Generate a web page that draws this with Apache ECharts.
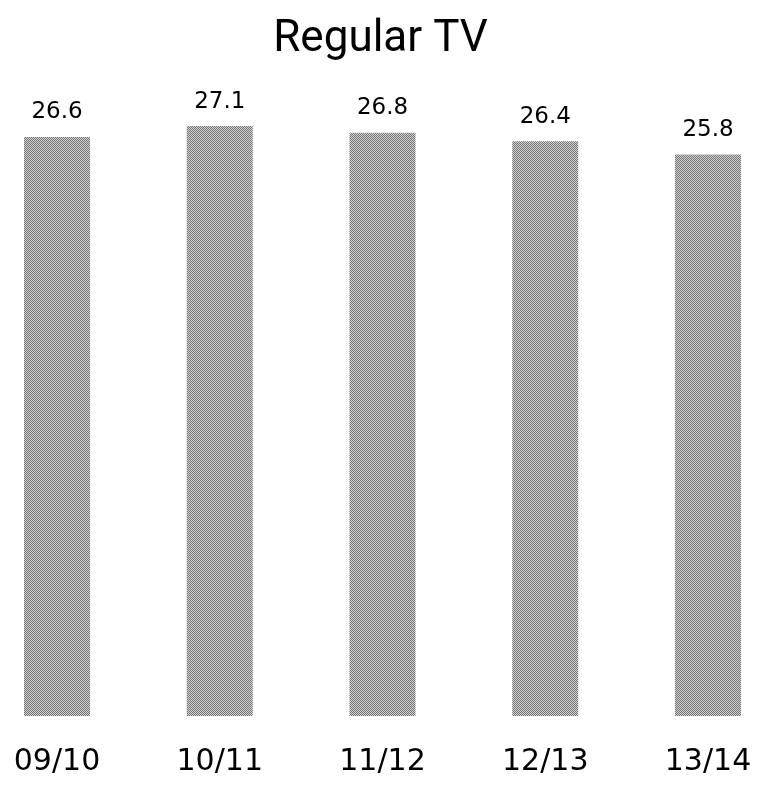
<!DOCTYPE html>
<html>
<head>
<meta charset="utf-8">
<script src="https://cdn.jsdelivr.net/npm/echarts@6/dist/echarts.min.js"></script>
<style>html,body{margin:0;padding:0;background:#fff}#c{width:761px;height:785px}</style>
</head>
<body>
<div id="c"></div>
<script>
const categories = ['09/10', '10/11', '11/12', '12/13', '13/14'];
const values = [26.6, 27.1, 26.8, 26.4, 25.8];
const titleText = 'Regular TV';

const pc = document.createElement('canvas');
pc.width = 2; pc.height = 2;
const ctx = pc.getContext('2d');
ctx.fillStyle = '#cfcfcf'; ctx.fillRect(0, 0, 2, 2);
ctx.fillStyle = '#777777'; ctx.fillRect(0, 0, 1, 1); ctx.fillRect(1, 1, 1, 1);

const chart = echarts.init(document.getElementById('c'), null, {renderer: 'canvas'});
chart.setOption({
  animation: false,
  title: {
    text: titleText, left: 'center', top: 13,
    textStyle: {fontFamily: 'Roboto, "Liberation Sans", sans-serif', fontSize: 44, fontWeight: 'normal', color: '#000'}
  },
  grid: {left: 57, right: 53, top: 63, bottom: 69},
  xAxis: {
    type: 'category', data: categories, boundaryGap: false,
    axisLine: {show: false}, axisTick: {show: false}, splitLine: {show: false},
    axisLabel: {margin: 31, fontFamily: '"DejaVu Sans", sans-serif', fontSize: 30, color: '#000'}
  },
  yAxis: {type: 'value', min: 0, max: 30, show: false, splitLine: {show: false}},
  series: [{
    type: 'bar', data: values, barWidth: 66,
    itemStyle: {color: {image: pc, repeat: 'repeat'}},
    label: {show: true, position: 'top', distance: 13, fontFamily: '"DejaVu Sans", sans-serif', fontSize: 23, color: '#000'}
  }]
});
</script>
</body>
</html>
